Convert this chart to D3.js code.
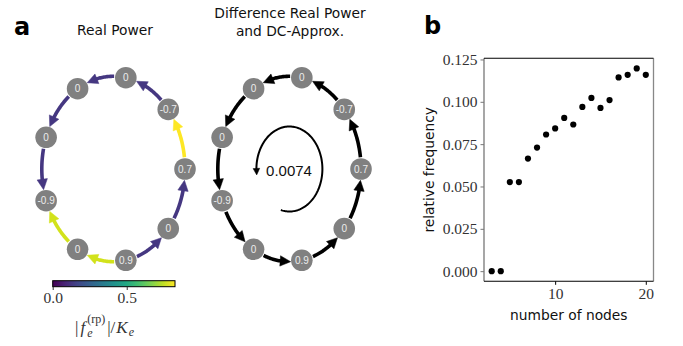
<!DOCTYPE html>
<meta charset="utf-8">
<html>
<head>
<style>
  body { margin: 0; background: #fff; }
  .title { font-family: "DejaVu Sans", sans-serif; font-size: 13.8px; fill: #111; }
  .panel { font-family: "DejaVu Sans", sans-serif; font-weight: bold; font-size: 24px; fill: #000; }
  .nodelab { font-family: "Liberation Sans", Arial, sans-serif; font-size: 10px; fill: #ececec; }
</style>
<script src="https://d3js.org/d3.v7.min.js"></script>
</head>
<body>
<svg width="683" height="346"></svg>
<script>
// ---- data ----
// ring: 9 nodes, counter-clockwise starting at the rightmost node
var nodeLabels = ["0.7", "-0.7", "0", "0", "0", "-0.9", "0", "0.9", "0"];
// real power flow on edge k -> k+1 (per K_e)
var realFlow = [0.826, 0.13, 0.13, 0.13, 0.13, -0.77, -0.77, 0.13, 0.13];
// difference real power - DC approx: loop flow
var loopFlow = 0.0074;
var diffFlow = [1, 1, 1, 1, 1, 1, 1, 1, 1];   // direction of every edge
var cbarTicks = [0.0, 0.5];
var cbarMax = 0.826;

// panel b
var numNodes = [3, 4, 5, 6, 7, 8, 9, 10, 11, 12, 13, 14, 15, 16, 17, 18, 19, 20];
var relFreq = [0.000, 0.000, 0.0526, 0.0526, 0.0665, 0.0730, 0.0807, 0.0843, 0.0905,
               0.0866, 0.0970, 0.1023, 0.0964, 0.1010, 0.1144, 0.1159, 0.1197, 0.1159];
var xTicks = [10, 20];
var yTicks = [0, 0.025, 0.05, 0.075, 0.1, 0.125];

var svg = d3.select("svg");

// ---------- panel a ----------
svg.append("text").attr("class", "panel").attr("x", 14).attr("y", 35).text("a");
svg.append("text").attr("class", "title").attr("x", 115).attr("y", 35)
   .attr("text-anchor", "middle").text("Real Power");
svg.append("text").attr("class", "title").attr("x", 290).attr("y", 18)
   .attr("text-anchor", "middle").text("Difference Real Power");
svg.append("text").attr("class", "title").attr("x", 290).attr("y", 36)
   .attr("text-anchor", "middle").text("and DC-Approx.");

var color = d3.scaleSequential(d3.interpolateViridis).domain([0, cbarMax]);

var R = 10.8, rx = 71.6, ry = 92.7, cy = 169;
var nN = nodeLabels.length;

function drawRing(cx, flows, colorFn) {
  var sx = d3.scaleLinear().domain([-1, 1]).range([cx - rx, cx + rx]);
  var sy = d3.scaleLinear().domain([-1, 1]).range([cy + ry, cy - ry]);
  var ang = d3.scaleLinear().domain([0, nN]).range([0, 2 * Math.PI]);
  var pos = function(t) { return [sx(Math.cos(t)), sy(Math.sin(t))]; };
  var g = svg.append("g");

  flows.forEach(function(f, k) {
    var pts = d3.range(0, 81).map(function(i) {
      return pos(ang(k) + (ang(k + 1) - ang(k)) * i / 80);
    });
    if (f < 0) pts.reverse();
    drawArrow(g, pts, R + 1, R + 0.5, colorFn(f), 3.6, 10.5, 5.2);
  });

  g.selectAll("circle.node").data(nodeLabels).enter().append("circle")
    .attr("class", "node")
    .attr("cx", function(d, i) { return pos(ang(i))[0]; })
    .attr("cy", function(d, i) { return pos(ang(i))[1]; })
    .attr("r", R).attr("fill", "#808080");
  g.selectAll("text.nodelab").data(nodeLabels).enter().append("text")
    .attr("class", "nodelab")
    .attr("x", function(d, i) { return pos(ang(i))[0]; })
    .attr("y", function(d, i) { return pos(ang(i))[1] + 3.6; })
    .attr("text-anchor", "middle").text(function(d) { return d; });
}

// draw polyline trimmed at both ends with an arrow head at the end
function drawArrow(g, pts, trimStart, trimEnd, col, sw, headLen, headW) {
  var cum = [0];
  for (var i = 1; i < pts.length; i++) {
    cum.push(cum[i - 1] + Math.hypot(pts[i][0] - pts[i - 1][0], pts[i][1] - pts[i - 1][1]));
  }
  var L = cum[cum.length - 1];
  function at(s) {
    var i = d3.bisectLeft(cum, s);
    if (i <= 0) return pts[0];
    if (i >= pts.length) return pts[pts.length - 1];
    var a = (s - cum[i - 1]) / (cum[i] - cum[i - 1]);
    return [pts[i - 1][0] + a * (pts[i][0] - pts[i - 1][0]),
            pts[i - 1][1] + a * (pts[i][1] - pts[i - 1][1])];
  }
  var s0 = trimStart, s1 = L - trimEnd, sl = s1 - headLen * 0.75;
  var line = [];
  for (var s = s0; s < sl; s += 1) line.push(at(s));
  line.push(at(sl));
  g.append("path").attr("d", d3.line()(line))
    .attr("fill", "none").attr("stroke", col).attr("stroke-width", sw);
  var tip = at(s1), back = at(s1 - headLen);
  var dx = tip[0] - back[0], dy = tip[1] - back[1], n = Math.hypot(dx, dy);
  var ux = dx / n, uy = dy / n;
  var b = [tip[0] - ux * headLen, tip[1] - uy * headLen];
  g.append("path")
    .attr("d", d3.line()([tip, [b[0] - uy * headW, b[1] + ux * headW],
                          [b[0] + uy * headW, b[1] - ux * headW]]) + "Z")
    .attr("fill", col).attr("stroke", col).attr("stroke-width", 0.5);
}

drawRing(113.4, realFlow, function(f) { return color(Math.abs(f)); });
drawRing(289.4, diffFlow, function() { return "#000"; });

// loop flow arrow in the middle of the right ring
(function() {
  var lx = d3.scaleLinear().domain([-1, 1]).range([289.4 - 33, 289.4 + 33]);
  var ly = d3.scaleLinear().domain([-1, 1]).range([cy + 42.5, cy - 42.5]);
  var t0 = -105 * Math.PI / 180, t1 = 188 * Math.PI / 180;
  var pts = d3.range(0, 201).map(function(i) {
    var t = t0 + (t1 - t0) * i / 200;
    return [lx(Math.cos(t)), ly(Math.sin(t))];
  });
  var g = svg.append("g");
  drawArrow(g, pts, 0, 0, "#000", 2, 6.5, 3.3);
  g.append("text").attr("x", 289).attr("y", 175.5)
    .attr("text-anchor", "middle")
    .style("font-family", "Liberation Sans, Arial, sans-serif")
    .style("font-size", "15px").attr("fill", "#111")
    .text(loopFlow.toString());
})();

// colorbar
var cbX = d3.scaleLinear().domain([0, cbarMax]).range([52.7, 175]);
var defs = svg.append("defs");
var grad = defs.append("linearGradient").attr("id", "vir");
d3.range(0, 11).forEach(function(i) {
  grad.append("stop").attr("offset", (i * 10) + "%")
    .attr("stop-color", d3.interpolateViridis(i / 10));
});
svg.append("rect").attr("x", cbX(0)).attr("y", 280.7)
  .attr("width", cbX(cbarMax) - cbX(0)).attr("height", 6)
  .attr("fill", "url(#vir)").attr("stroke", "#000").attr("stroke-width", 1);
svg.append("g").attr("transform", "translate(0,287)")
  .call(d3.axisBottom(cbX).tickValues(cbarTicks).tickFormat(d3.format(".1f")).tickSize(3).tickPadding(2))
  .call(function(a) {
    a.select(".domain").remove();
    a.selectAll("line").attr("stroke", "#333");
    a.selectAll("text").style("font-family", "Liberation Serif, serif")
      .style("font-size", "15.5px").attr("fill", "#333");
  });

// colorbar label |f_e^(rp)|/K_e
(function() {
  var t = svg.append("text").attr("x", 75).attr("y", 333)
    .style("font-family", "Liberation Serif, serif").style("font-size", "17px").attr("fill", "#333");
  t.append("tspan").text("|");
  t.append("tspan").attr("dx", 2).style("font-style", "italic").text("f");
  var sup = t.append("tspan").attr("dx", 2).attr("dy", -10).style("font-size", "12px").text("(rp)");
  var w = sup.node().getComputedTextLength();
  var sub = t.append("tspan").attr("dx", -w).attr("dy", 14).style("font-size", "12px")
    .style("font-style", "italic").text("e");
  var ws = sub.node().getComputedTextLength();
  t.append("tspan").attr("dx", w - ws + 2).attr("dy", -4).text("|/");
  t.append("tspan").attr("dx", 1).style("font-style", "italic").text("K");
  t.append("tspan").attr("dx", 1).attr("dy", 3).style("font-size", "12px").style("font-style", "italic").text("e");
})();

// ---------- panel b ----------
(function() {
  svg.append("text").attr("class", "panel").attr("x", 424).attr("y", 34).text("b");

  var bl = 484, br = 653.5, bt = 58.3, bb = 281.3;
  var xPad = (d3.max(numNodes) - d3.min(numNodes)) * 0.05;
  var yPad = d3.max(relFreq) * 0.05;
  var x = d3.scaleLinear().domain([d3.min(numNodes) - xPad, d3.max(numNodes) + xPad]).range([bl, br]);
  var y = d3.scaleLinear().domain([-yPad, d3.max(relFreq) + yPad]).range([bb, bt]);

  var gb = svg.append("g");
  gb.append("g").attr("transform", "translate(0," + bb + ")")
    .call(d3.axisBottom(x).tickValues(xTicks).tickSize(3.5).tickPadding(3))
    .call(function(a) {
      a.select(".domain").remove();
      a.selectAll("line").attr("stroke", "#000");
      a.selectAll("text").style("font-family", "Liberation Serif, serif")
        .style("font-size", "15.5px").attr("fill", "#333");
    });
  gb.append("g").attr("transform", "translate(" + bl + ",0)")
    .call(d3.axisLeft(y).tickValues(yTicks).tickFormat(d3.format(".3f")).tickSize(3.5).tickPadding(3))
    .call(function(a) {
      a.select(".domain").remove();
      a.selectAll("line").attr("stroke", "#777");
      a.selectAll("text").style("font-family", "Liberation Serif, serif")
        .style("font-size", "15.5px").attr("fill", "#333");
    });

  // spines
  gb.append("line").attr("x1", bl).attr("x2", bl).attr("y1", bt).attr("y2", bb)
    .attr("stroke", "#777").attr("stroke-width", 1.3);
  gb.append("line").attr("x1", br).attr("x2", br).attr("y1", bt).attr("y2", bb)
    .attr("stroke", "#888").attr("stroke-width", 1.3);
  gb.append("line").attr("x1", bl).attr("x2", br).attr("y1", bt).attr("y2", bt)
    .attr("stroke", "#000").attr("stroke-width", 1.1);
  gb.append("line").attr("x1", bl).attr("x2", br).attr("y1", bb).attr("y2", bb)
    .attr("stroke", "#000").attr("stroke-width", 1.1);

  gb.selectAll("circle.dot").data(relFreq).enter().append("circle")
    .attr("class", "dot")
    .attr("cx", function(d, i) { return x(numNodes[i]); })
    .attr("cy", function(d) { return y(d); })
    .attr("r", 3.1).attr("fill", "#000");

  svg.append("text").attr("class", "title").attr("x", (bl + br) / 2).attr("y", 320)
    .attr("text-anchor", "middle").text("number of nodes");
  svg.append("text").attr("class", "title")
    .attr("transform", "translate(434," + ((bt + bb) / 2) + ") rotate(-90)")
    .attr("text-anchor", "middle").text("relative frequency");
})();
</script>
</body>
</html>
